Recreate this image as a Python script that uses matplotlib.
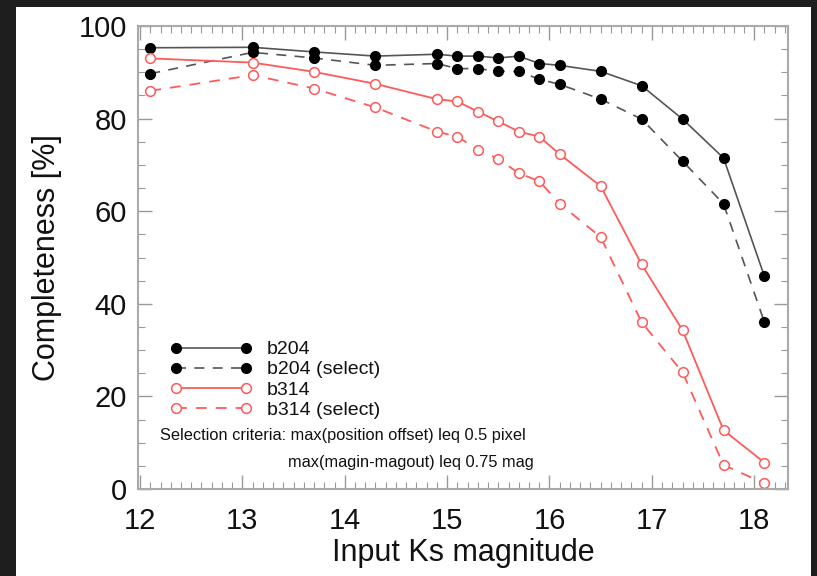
import matplotlib
matplotlib.use("Agg")
import matplotlib.pyplot as plt
from matplotlib.patches import Rectangle
from matplotlib.ticker import MultipleLocator

mag = [12.1, 13.1, 13.7, 14.3, 14.9, 15.1, 15.3, 15.5, 15.7, 15.9, 16.1, 16.5, 16.9, 17.3, 17.7, 18.1]
b204 = [95.3, 95.4, 94.4, 93.5, 93.9, 93.5, 93.5, 93.1, 93.5, 91.9, 91.5, 90.2, 87.1, 79.9, 71.5, 45.9]
b204_sel = [89.7, 94.3, 93.1, 91.5, 91.9, 90.8, 90.8, 90.2, 90.2, 88.5, 87.4, 84.2, 79.9, 70.8, 61.6, 36.0]
b314 = [93.0, 92.1, 90.1, 87.5, 84.2, 83.7, 81.5, 79.4, 77.2, 76.1, 72.3, 65.4, 48.5, 34.3, 12.7, 5.7]
b314_sel = [86.0, 89.4, 86.5, 82.4, 77.2, 76.1, 73.3, 71.3, 68.2, 66.5, 61.6, 54.4, 36.0, 25.2, 5.2, 1.2]

labels = ["b204", "b204 (select)", "b314", "b314 (select)"]
xticks = [12, 13, 14, 15, 16, 17, 18]
yticks = [0, 20, 40, 60, 80, 100]

plt.rcParams['font.family'] = ['Liberation Sans', 'DejaVu Sans']

fig = plt.figure(figsize=(8.17, 5.76), dpi=100, facecolor='#1e1e1e')
fig.patches.append(Rectangle((16/817, 0), (811-16)/817, (576-7)/576,
                             transform=fig.transFigure, facecolor='white',
                             edgecolor='none', zorder=-5))
ax = fig.add_axes([138/817, 1-489/576, (788-138)/817, (489-26)/576])
ax.set_zorder(2)

red = '#ff5a5a'
ax.plot(mag, b204, '-', color='#555555', lw=1.2, marker='o', ms=7,
        mfc='black', mec='black', label=labels[0])
ax.plot(mag, b204_sel, '--', color='#555555', lw=1.2, dashes=(6, 5), marker='o', ms=7,
        mfc='black', mec='black', label=labels[1])
ax.plot(mag, b314, '-', color=red, lw=1.3, marker='o', ms=7,
        mfc='white', mec=red, mew=1.1, label=labels[2])
ax.plot(mag, b314_sel, '--', color=red, lw=1.3, dashes=(6, 5), marker='o', ms=7,
        mfc='white', mec=red, mew=1.1, label=labels[3])

ax.set_xlim(11.98, 18.33)
ax.set_ylim(0, 100)
ax.set_xticks(xticks)
ax.set_yticks(yticks)
ax.xaxis.set_minor_locator(MultipleLocator(0.1))
ax.yaxis.set_minor_locator(MultipleLocator(5))
ax.tick_params(which='both', direction='in', top=True, right=True, color='#999999')
ax.tick_params(which='major', length=10, width=1.0, labelsize=21, labelcolor='#111111')
ax.tick_params(axis='x', which='major', pad=13)
ax.tick_params(axis='y', which='major', pad=8)
ax.tick_params(which='minor', length=5, width=0.8)
for s in ax.spines.values():
    s.set_color('#aaaaaa')
    s.set_linewidth(1.5)

ax.set_xlabel("Input Ks magnitude", fontsize=22, color='#111111', labelpad=2)
ax.set_ylabel("Completeness [%]", fontsize=22, color='#111111', labelpad=12)

leg = ax.legend(loc='center left', bbox_to_anchor=(0.05, 0.236), frameon=False,
                fontsize=14, numpoints=2, handlelength=4.2, handletextpad=0.75,
                labelspacing=0.13, borderaxespad=0, borderpad=0)
for t in leg.get_texts():
    t.set_color('#111111')

ax.text(0.034, 0.1145, "Selection criteria: max(position offset) leq 0.5 pixel",
        transform=ax.transAxes, fontsize=11.8, color='#111111', va='center')
ax.text(0.231, 0.058, "max(magin-magout) leq 0.75 mag",
        transform=ax.transAxes, fontsize=11.8, color='#111111', va='center')

fig.savefig("out.png", dpi=100, facecolor=fig.get_facecolor())
